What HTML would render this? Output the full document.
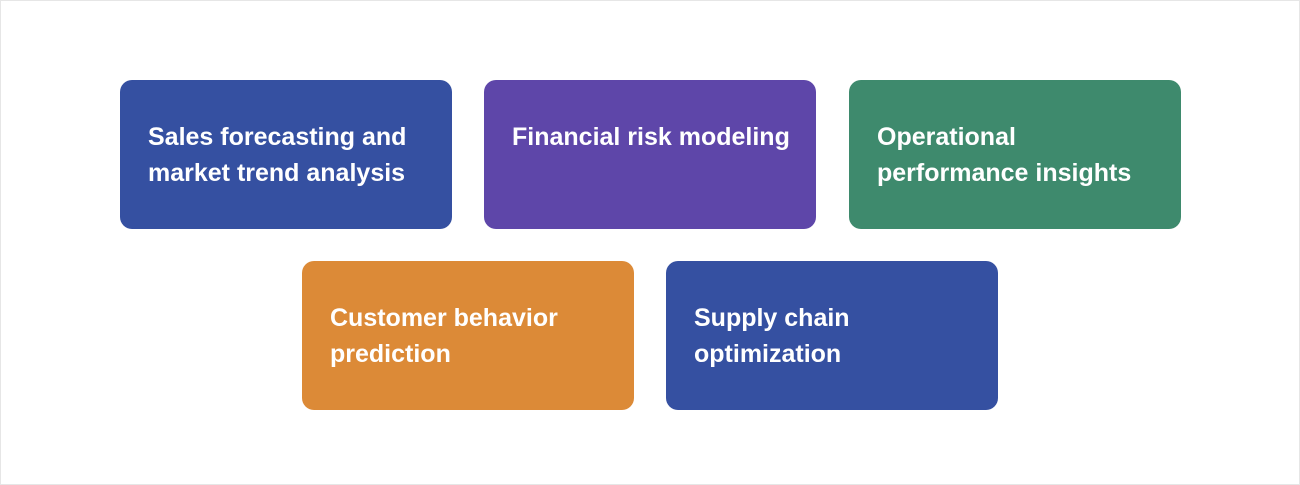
<!DOCTYPE html>
<html><head><style>
html,body{margin:0;padding:0;}
body{width:1300px;height:485px;background:#fff;position:relative;overflow:hidden;font-family:"Liberation Sans",sans-serif;}
.frame{position:absolute;left:0;top:0;width:1298px;height:483px;border:1px solid #e6e6e6;}
.b{position:absolute;width:332px;height:149px;border-radius:12px;color:#fff;box-sizing:border-box;padding:39px 20px 0 28px;font-size:25px;font-weight:bold;line-height:36px;letter-spacing:0;}
</style></head><body>
<div class="frame"></div>
<div class="b" style="left:120px;top:80px;background:#3550a1">Sales forecasting and<br>market trend analysis</div>
<div class="b" style="left:484px;top:80px;background:#5e46a9">Financial risk modeling</div>
<div class="b" style="left:849px;top:80px;background:#3e8a6d">Operational<br>performance insights</div>
<div class="b" style="left:302px;top:261px;background:#dc8a37">Customer behavior<br>prediction</div>
<div class="b" style="left:666px;top:261px;background:#3550a1">Supply chain<br>optimization</div>
</body></html>
